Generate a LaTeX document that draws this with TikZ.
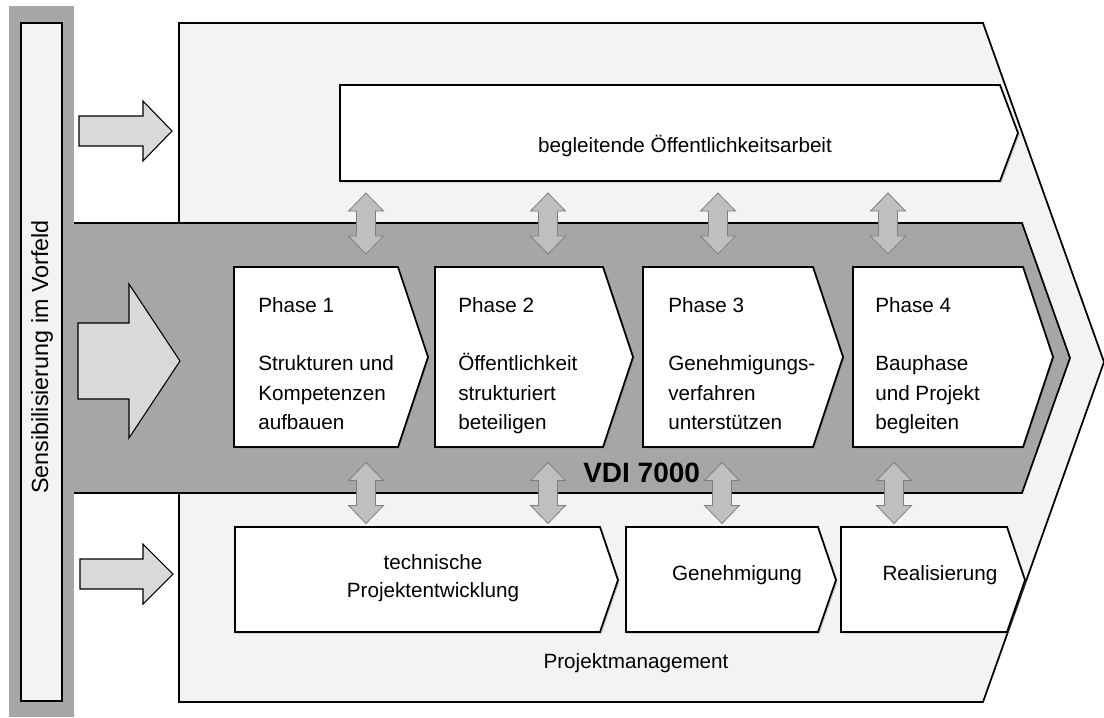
\documentclass[tikz,border=0pt]{standalone}
\usepackage{fontspec}
\setmainfont{Liberation Sans}
\usetikzlibrary{shadows}
\definecolor{bgl}{HTML}{F2F3F3}
\definecolor{bandgray}{HTML}{A6A6A6}
\definecolor{arrfill}{HTML}{D9D9D9}
\definecolor{dblfill}{HTML}{BFBFBF}
\definecolor{dblline}{HTML}{7F7F7F}
\tikzset{
  outer/.style={draw=black, line width=1.3pt, fill=bgl},
  box/.style={draw=black, line width=1.3pt, fill=white,
    drop shadow={shadow xshift=1.2pt, shadow yshift=-1.2pt, opacity=0.35}},
  bigarrow/.style={draw=black, line width=0.8pt, fill=arrfill},
  dblarrow/.style={draw=dblline, line width=0.6pt, fill=dblfill},
  lbl/.style={font=\fontsize{15.5}{22}\selectfont, inner sep=0pt},
  phase/.style={lbl, align=left, anchor=north west},
  pics/dbl/.style={code={
    \draw[dblarrow] (0,-30.5) -- (17.5,-12.5) -- (9.5,-12.5) -- (9.5,12.5)
      -- (17.5,12.5) -- (0,30.5) -- (-17.5,12.5) -- (-9.5,12.5)
      -- (-9.5,-12.5) -- (-17.5,-12.5) -- cycle;}}
}
\begin{document}
\begin{tikzpicture}[x=0.75pt,y=-0.75pt,line join=miter]
\useasboundingbox (0,0) rectangle (1104,718);
% left bar
\fill[bandgray] (9,6) rectangle (74,717);
\draw[fill=bgl, line width=0.8pt] (21,23) rectangle (62,701);
\node[lbl, font=\fontsize{17.5}{20}\selectfont, rotate=90] (sens) at (42,357) {Sensibilisierung im Vorfeld};
% big chevron
\draw[outer] (179,23) -- (983,23) -- (1104,362) -- (983,702) -- (179,702) -- cycle;
% left arrows
\draw[bigarrow] (79,116) -- (143,116) -- (143,101) -- (172,131) -- (143,161) -- (143,146) -- (79,146) -- cycle;
\draw[bigarrow] (80,559) -- (143,559) -- (143,544) -- (173,574) -- (143,604) -- (143,589) -- (80,589) -- cycle;
% top box
\draw[box] (340,85) -- (1000,85) -- (1018,133) -- (1000,181) -- (340,181) -- cycle;
\node[lbl, anchor=base] (oeff) at (685,152) {begleitende Öffentlichkeitsarbeit};
% band
\fill[bandgray] (74,223) -- (1022,223) -- (1070,358) -- (1022,493) -- (74,493) -- cycle;
\draw[line width=1.3pt] (74,223) -- (1022,223) -- (1070,358) -- (1022,493) -- (74,493);
% middle arrow
\draw[bigarrow] (78,323) -- (129,323) -- (129,284) -- (180,361) -- (129,438) -- (129,399) -- (78,399) -- cycle;
% phase boxes
\draw[box] (234,267) -- (398,267) -- (428,357) -- (398,447) -- (234,447) -- cycle;
\draw[box] (435,267) -- (603,267) -- (633,357) -- (603,447) -- (435,447) -- cycle;
\draw[box] (643,267) -- (813,267) -- (843,357) -- (813,447) -- (643,447) -- cycle;
\draw[box] (853,267) -- (1023,267) -- (1053,357) -- (1023,447) -- (853,447) -- cycle;
\node[phase] (p1) at (258,297) {Phase 1\\[22pt]Strukturen und\\Kompetenzen\\aufbauen};
\node[phase] (p2) at (458,297) {Phase 2\\[22pt]Öffentlichkeit\\strukturiert\\beteiligen};
\node[phase] (p3) at (668,297) {Phase 3\\[22pt]Genehmigungs-\\verfahren\\unterstützen};
\node[phase] (p4) at (875,297) {Phase 4\\[22pt]Bauphase\\und Projekt\\begleiten};
\node[lbl, font=\fontsize{21}{24}\selectfont\bfseries, anchor=base west] (vdi) at (583,482) {VDI 7000};
% bottom boxes
\draw[box] (235,527) -- (600,527) -- (618,580) -- (600,632) -- (235,632) -- cycle;
\draw[box] (626,527) -- (818,527) -- (836,580) -- (818,632) -- (626,632) -- cycle;
\draw[box] (841,527) -- (1007,527) -- (1025,580) -- (1007,632) -- (841,632) -- cycle;
\node[lbl, align=center, font=\fontsize{15.5}{21}\selectfont] (tech) at (433,578) {technische\\Projektentwicklung};
\node[lbl, anchor=base] (gen) at (737,580) {Genehmigung};
\node[lbl, anchor=base] (real) at (940,580) {Realisierung};
\node[lbl, anchor=base] (pm) at (636,668) {Projektmanagement};
% double arrows
\pic at (366,223.5) {dbl};
\pic at (548,223.5) {dbl};
\pic at (718,223.5) {dbl};
\pic at (888,223.5) {dbl};
\pic at (366,493) {dbl};
\pic at (548,493) {dbl};
\pic at (722,493) {dbl};
\pic at (894,493) {dbl};
\end{tikzpicture}
\end{document}
